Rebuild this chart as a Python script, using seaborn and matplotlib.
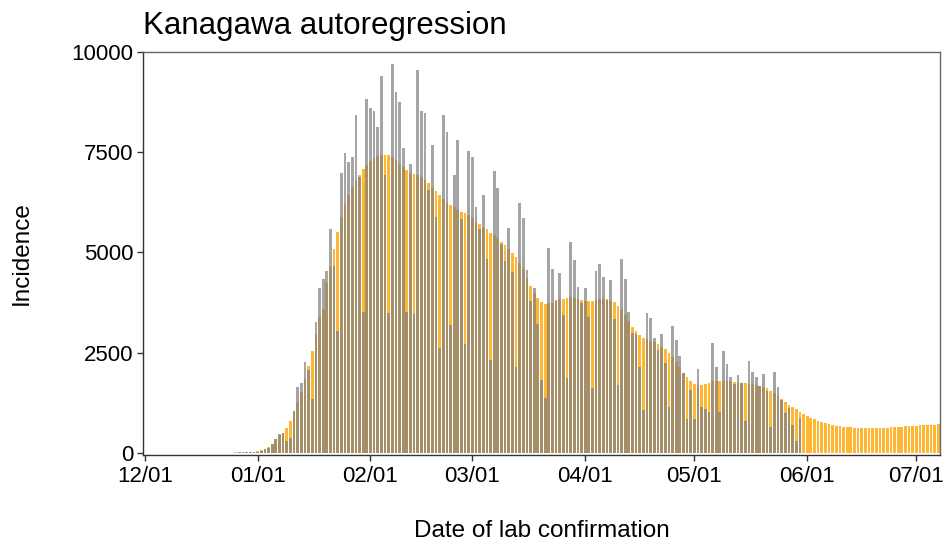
import matplotlib
matplotlib.use("Agg")
import matplotlib.pyplot as plt
import pandas as pd
import seaborn as sns

# Daily confirmed cases in Kanagawa, starting 2021-12-01
start_date = "2021-12-01"
observed = [
    3, 4, 2, 5, 3, 2, 4, 3, 5, 2,
    4, 3, 6, 5, 3, 2, 6, 5, 7, 4,
    8, 10, 9, 12, 11, 9, 14, 16, 18, 15,
    20, 35, 60, 90, 125, 225, 350, 475, 490, 308,
    375, 1055, 1638, 1737, 2262, 2079, 1350, 3260, 4115, 4340,
    4548, 5586, 4664, 3043, 6975, 7474, 7265, 7373, 8429, 6880,
    3524, 8824, 8596, 8537, 8130, 9410, 6925, 3499, 9710, 9000,
    8745, 7600, 3524, 7215, 3466, 9545, 8540, 8480, 6550, 7681,
    5894, 2610, 8430, 8014, 3192, 6933, 7806, 5835, 2718, 7532,
    7374, 6126, 5586, 6434, 4830, 2320, 7041, 6617, 5220, 4789,
    5619, 4523, 2153, 6226, 5869, 4564, 3799, 4108, 3209, 1821,
    1364, 5104, 4589, 3800, 4498, 3441, 1862, 5270, 4814, 4149,
    3740, 4108, 3400, 1613, 4540, 4714, 4398, 3816, 4315, 3340,
    1696, 4830, 4331, 3512, 2990, 2965, 2145, 1072, 3500, 3355,
    2876, 2569, 2967, 2236, 1147, 3168, 2818, 2419, 1995, 848,
    1571, 848, 2103, 1139, 1089, 1031, 2735, 2136, 1031, 2552,
    2220, 1887, 1712, 1945, 1737, 806, 2303, 2012, 1887, 1679,
    1962, 1554, 657, 2028, 1654, 1322, 990, 1114, 698, 307,
    880,
]

# Autoregression model incidence, same start date, extending past the data
model = [
    2, 2, 3, 3, 3, 3, 4, 4, 4, 4,
    5, 5, 5, 6, 6, 6, 7, 7, 8, 8,
    9, 9, 10, 11, 12, 13, 14, 16, 18, 20,
    25, 40, 75, 108, 158, 225, 350, 460, 490, 625,
    808, 1055, 1264, 1513, 1846, 2162, 2553, 2968, 3384, 3592,
    4232, 4664, 5087, 5520, 5894, 6202, 6434, 6641, 6791, 6933,
    7070, 7183, 7270, 7350, 7407, 7432, 7432, 7432, 7380, 7300,
    7200, 7135, 7058, 6990, 6970, 6930, 6890, 6810, 6740, 6600,
    6542, 6434, 6326, 6243, 6185, 6143, 6060, 6018, 5977, 5935,
    5852, 5769, 5711, 5620, 5578, 5494, 5437, 5354, 5271, 5187,
    5079, 4997, 4880, 4747, 4581, 4357, 4165, 3999, 3857, 3774,
    3716, 3733, 3749, 3816, 3832, 3841, 3874, 3882, 3866, 3841,
    3816, 3791, 3782, 3782, 3816, 3832, 3841, 3841, 3791, 3755,
    3666, 3575, 3435, 3285, 3151, 3035, 2935, 2876, 2835, 2798,
    2756, 2714, 2652, 2594, 2502, 2395, 2265, 2137, 2003, 1883,
    1796, 1729, 1696, 1696, 1712, 1737, 1796, 1800, 1804, 1804,
    1800, 1796, 1762, 1750, 1737, 1737, 1730, 1720, 1700, 1679,
    1650, 1613, 1554, 1500, 1420, 1347, 1280, 1197, 1139, 1089,
    1022, 972, 923, 881, 840, 806, 765, 740, 715, 699,
    682, 674, 657, 649, 640, 632, 628, 624, 622, 620,
    620, 622, 624, 628, 632, 636, 640, 649, 657, 665,
    669, 674, 682, 686, 690, 699, 703, 707, 715,
]

month_labels = ["12/01", "01/01", "02/01", "03/01", "04/01", "05/01", "06/01", "07/01"]
y_ticks = [0, 2500, 5000, 7500, 10000]

sns.set_theme(style="ticks")
plt.rcParams["font.family"] = ["Liberation Sans", "DejaVu Sans"]
plt.rcParams["text.color"] = "black"
plt.rcParams["axes.labelcolor"] = "black"

origin = pd.Timestamp(start_date)
model_dates = pd.date_range(start_date, periods=len(model), freq="D")
obs_dates = pd.date_range(start_date, periods=len(observed), freq="D")
df_model = pd.DataFrame({"day": (model_dates - origin).days, "cases": model})
df_obs = pd.DataFrame({"day": (obs_dates - origin).days, "cases": observed})

fig = plt.figure(figsize=(9.45, 5.45), dpi=100)
ax = fig.add_axes([143 / 945, 1 - 455 / 545, (940 - 143) / 945, (455 - 52) / 545])

# model first, observed counts drawn translucently on top
sns.barplot(data=df_model, x="day", y="cases", native_scale=True, color="#FFA500",
            alpha=0.8, width=0.75, linewidth=0, saturation=1, errorbar=None, ax=ax)
sns.barplot(data=df_obs, x="day", y="cases", native_scale=True, color="#7F7F7F",
            alpha=0.7, width=0.75, linewidth=0, saturation=1, errorbar=None, ax=ax)

month_starts = pd.date_range(start_date, periods=len(month_labels), freq="MS")
ax.set_xticks((month_starts - origin).days)
ax.set_xticklabels(month_labels)
ax.set_yticks(y_ticks)
ax.set_yticklabels([str(v) for v in y_ticks])
ax.set_xlim(-0.5, 218.5)
ax.set_ylim(-50, 10000)

for side in ["top", "right"]:
    ax.spines[side].set_visible(True)
    ax.spines[side].set_color("#666666")
    ax.spines[side].set_linewidth(1.0)
for side in ["left", "bottom"]:
    ax.spines[side].set_color("#333333")
    ax.spines[side].set_linewidth(1.0)
ax.tick_params(axis="both", direction="out", length=4, width=1.0, color="#333333",
               labelsize=16, labelcolor="black")
ax.tick_params(axis="x", pad=4)
ax.tick_params(axis="y", pad=3)

ax.set_xlabel("Date of lab confirmation", fontsize=17.5, labelpad=24, color="black")
ax.set_ylabel("Incidence", fontsize=17.5, labelpad=28, color="black")
ax.set_title("Kanagawa autoregression", loc="left", fontsize=22.5, pad=13, color="black")

fig.savefig("out.png", dpi=100)
